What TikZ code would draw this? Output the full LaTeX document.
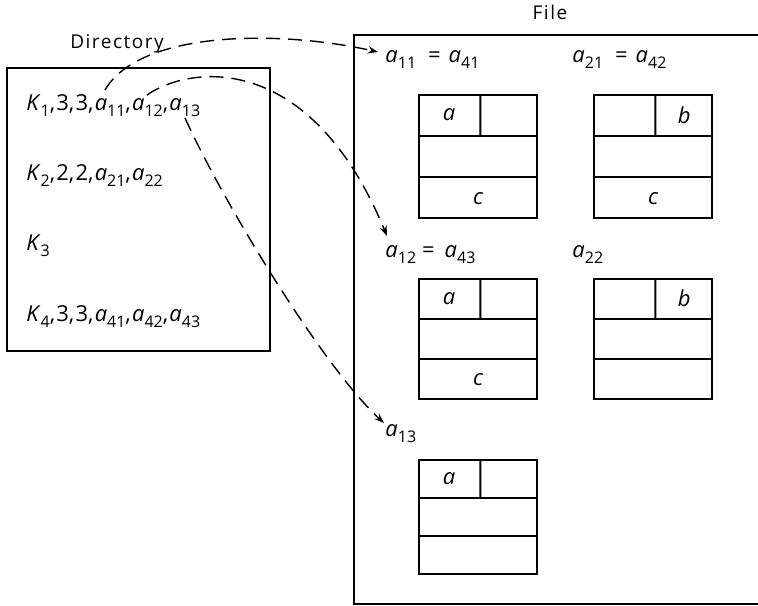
\documentclass[tikz,border=0pt]{standalone}
\usepackage{fontspec}
\setmainfont{Open Sans}
\usetikzlibrary{arrows.meta,calc}
% lowered upright index after an italic symbol
\newcommand\ix[1]{\raisebox{-0.55ex}{\footnotesize\upshape #1}}
\newcommand\vK[1]{\textit{K}\ix{#1}}
\newcommand\va[1]{\textit{a}\ix{#1}}
\newcommand\cm{,\kern0.6pt}
\tikzset{
  txt/.style={inner sep=0pt, anchor=base west, font=\fontsize{11}{13}\selectfont},
  ttl/.style={inner sep=0pt, anchor=base, font=\fontsize{9.5}{11}\selectfont\addfontfeature{LetterSpace=8}},
  frame/.style={draw, line width=1pt},
  recbox/.style={draw, line width=1pt, minimum width=59pt, inner sep=0pt, anchor=north west},
  rule/.style={line width=1pt},
  cell/.style={inner sep=0pt, font=\fontsize{11}{13}\selectfont\itshape},
  link/.style={line width=0.7pt, dash pattern=on 7pt off 4pt, -{Stealth[length=5pt,width=3.6pt]}}
}
% one record: name, x, y (top), height in pt
\newcommand\record[4]{%
  \node[recbox, minimum height=#4] (#1) at (#2,#3) {};
  \coordinate (#1-d) at ($(#1.north west)!0.52!(#1.north east)$);
  \draw[rule] ($(#1.north west)!1/3!(#1.south west)$) -- ($(#1.north east)!1/3!(#1.south east)$);
  \draw[rule] ($(#1.north west)!2/3!(#1.south west)$) -- ($(#1.north east)!2/3!(#1.south east)$);
  \draw[rule] (#1-d) -- ($(#1-d)!1/3!(#1-d |- #1.south)$);
  \coordinate (#1-tl) at ($(#1.north west)!0.5!($(#1-d)!1/3!(#1-d |- #1.south)$)$);
  \coordinate (#1-tr) at ($(#1.north east)!0.5!($(#1-d)!1/3!(#1-d |- #1.south)$)$);
  \coordinate (#1-bc) at ($(#1.south)!1/6!(#1.north)$);
}
\begin{document}
\begin{tikzpicture}[x=0.5pt, y=-0.5pt]
\useasboundingbox (0,0) rectangle (758,605);

% directory
\node[ttl] (dirtitle) at (117,48) {Directory};
\node[frame, anchor=north west, minimum width=131.5pt, minimum height=141.5pt, inner sep=0pt] (dir) at (6,67) {};
\node[txt] (k1) at (26,110) {\vK{1}\cm3\cm3\cm\va{11}\cm\va{12}\cm\va{13}};
\node[txt] (k2) at (26,180) {\vK{2}\cm2\cm2\cm\va{21}\cm\va{22}};
\node[txt] (k3) at (26,250) {\vK{3}};
\node[txt] (k4) at (26,321) {\vK{4}\cm3\cm3\cm\va{41}\cm\va{42}\cm\va{43}};

% file
\node[ttl] (filetitle) at (550,19) {File};
\draw[frame] (758,35) -- (354,35) -- (354,603.5) -- (758,603.5);

\node[txt] (f11) at (385,62) {\va{11}\hspace{6pt}=\hspace{4pt}\va{41}};
\node[txt] (f21) at (572,62) {\va{21}\hspace{6pt}=\hspace{4pt}\va{42}};
\node[txt] (f12) at (385,257) {\va{12}\hspace{3pt}=\hspace{5pt}\va{43}};
\node[txt] (f22) at (572,257) {\va{22}};
\node[txt] (f13) at (385,436) {\va{13}};

\record{r1}{418}{94}{61.5pt}
\record{r2}{593}{94}{61.5pt}
\record{r3}{418}{278}{60pt}
\record{r4}{593}{278}{60pt}
\record{r5}{418}{459}{57pt}

\node[cell] at (r1-tl) {a};
\node[cell] at (r1-bc) {c};
\node[cell] at (r2-tr) {b};
\node[cell] at (r2-bc) {c};
\node[cell] at (r3-tl) {a};
\node[cell] at (r3-bc) {c};
\node[cell] at (r4-tr) {b};
\node[cell] at (r5-tl) {a};

% pointers from the directory entry to the stored records
\coordinate (t11) at (105,90);
\coordinate (t12) at (147,95);
\coordinate (t13) at (185,118);
\coordinate (h11) at (378,52);
\coordinate (h12) at (387,236);
\coordinate (h13) at (384,423);
\draw[link] (t11) .. controls (140,30) and (280,30) .. (h11);
\draw[link] (t12) .. controls (190,65) and (310,50) .. (h12);
\draw[link] (t13) .. controls (223,202) and (323,367) .. (h13);
\end{tikzpicture}
\end{document}
